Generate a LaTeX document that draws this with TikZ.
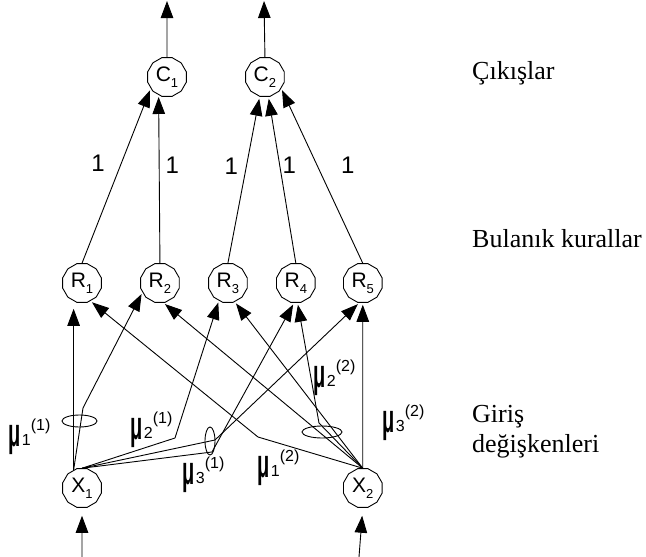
\documentclass[tikz,border=0pt]{standalone}
\usepackage{fontspec}
\setmainfont{Liberation Serif}
\newfontfamily\arialfont{Liberation Sans}
\usepackage{tikz}
\usetikzlibrary{shapes.geometric, positioning, arrows.meta, calc}
\tikzset{
  neuron/.style={regular polygon, regular polygon sides=12, draw, line width=0.9pt, minimum size=40pt, inner sep=0pt, font=\arialfont\fontsize{21}{21}\selectfont},
  ring/.style={ellipse, draw, line width=0.9pt, inner sep=0pt},
  arrow/.style={line width=0.9pt,->,>={Triangle[length=17pt,width=12.5pt]}, shorten >=2pt},
  weight/.style={inner sep=0pt, font=\arialfont\fontsize{24}{24}\selectfont},
  mulabel/.style={anchor=base west, inner sep=0pt, font=\arialfont},
  layer/.style={anchor=base west, inner sep=0pt, align=left, font=\fontsize{26}{29.5}\selectfont}
}
\newcommand{\nsub}[1]{\raisebox{-6pt}{\fontsize{13}{13}\selectfont #1}}
\newcommand{\muf}[2]{{\fontsize{40}{40}\selectfont\bfseries\scalebox{0.5}[1]{μ}}\kern1.5pt\raisebox{1pt}{\fontsize{16}{16}\selectfont #1}\raisebox{16pt}{\fontsize{16}{16}\selectfont(#2)}}

\begin{document}
\begin{tikzpicture}[x=1pt, y=-1pt]
            \useasboundingbox (0,0) rectangle (646,557);

            % --- katmanlar ---
            \node (c1) [neuron] at (167,77) {C\nsub{1}};
            \node (c2) [neuron, right=58.4pt of c1] {C\nsub{2}};

            \node (r1) [neuron] at (82,283) {R\nsub{1}};
            \node (r2) [neuron, right=38.4pt of r1] {R\nsub{2}};
            \node (r3) [neuron, right=28.4pt of r2] {R\nsub{3}};
            \node (r4) [neuron, right=28.4pt of r3] {R\nsub{4}};
            \node (r5) [neuron, right=27.4pt of r4] {R\nsub{5}};

            \node (x1) [neuron] at (82,488) {X\nsub{1}};
            \node (x2) [neuron] at (r5 |- x1) {X\nsub{2}};

            \node (outs) [layer] at (472,79) {Çıkışlar};
            \node (rules) [layer] at (472,247) {Bulanık kurallar};
            \node (ins) [layer] at (472,452) {Giriş\\değişkenleri};

            % --- serbest uclar ve kirilma noktalari ---
            \coordinate (y1) at (167,-1);
            \coordinate (y2) at (264,-1);
            \coordinate (u1) at (82,557);
            \coordinate (u2) at (359,557);
            \coordinate (k11) at (83,408);
            \coordinate (k21) at (175,438);
            \coordinate (k31a) at (212,452);
            \coordinate (k31b) at (215,440);
            \coordinate (k12) at (258,437);
            \coordinate (k22) at (319,423);

            % uyelik halkalari
            \node (ring11) [ring, minimum width=35pt, minimum height=12pt] at (79.5,421) {};
            \node (ring31) [ring, minimum width=10pt, minimum height=28pt] at (210,441) {};
            \node (ring22) [ring, minimum width=40pt, minimum height=12pt] at (322,432) {};

            \node (mu11) [mulabel] at (8,446) {\muf{1}{1}};
            \node (mu21) [mulabel] at (130,439) {\muf{2}{1}};
            \node (mu31) [mulabel] at (182,484) {\muf{3}{1}};
            \node (mu12) [mulabel] at (257,477) {\muf{1}{2}};
            \node (mu22) [mulabel] at (313,387) {\muf{2}{2}};
            \node (mu32) [mulabel] at (382,432) {\muf{3}{2}};

            % --- cikislar ---
            \draw [arrow] (c1.north) -- (y1);
            \draw [arrow] (c2.north) -- (y2);
            \draw [arrow] (r1.north) -- node (w1) [weight, pos=.57, left=16pt] {1} (c1.215);
            \draw [arrow] (r2.north) -- node (w2) [weight, pos=.58, right=6pt] {1} (c1.245);
            \draw [arrow] (r3.north) -- node (w3) [weight, pos=.58, left=8pt] {1} (c2.255);
            \draw [arrow] (r4.north) -- node (w4) [weight, pos=.59, right=2.5pt] {1} (c2.280);
            \draw [arrow] (r5.north) -- node (w5) [weight, pos=.56, right=23.5pt] {1} (c2.325);

            % --- girisler ---
            \draw [arrow, shorten >=8pt] (u1) -- (x1.south);
            \draw [arrow, shorten >=8pt] (u2) -- (x2.south);

            % 1. X1 den kurallara
            \draw [arrow, shorten >=6pt] (x1.115) -- (x1.115 |- r1.south);
            \draw [arrow] (x1.115) -- (k11) -- (r2.208);
            \draw [arrow] (x1.north) -- (k21) -- (r3.243);
            \draw [arrow] (x1.north) -- (k31a) -- (r4.265);
            \draw [arrow] (x1.north) -- (k31b) -- (r5.260);

            % 2. X2 den kurallara
            \draw [arrow] (x2.north) -- (r5.south);
            \draw [arrow] (x2.north) -- (k22) -- (r4.275);
            \draw [arrow] (x2.north) -- (r3.290);
            \draw [arrow] (x2.north) -- (r2.280);
            \draw [arrow] (x2.north) -- (k12) -- (r1.295);
        \end{tikzpicture}
\end{document}
